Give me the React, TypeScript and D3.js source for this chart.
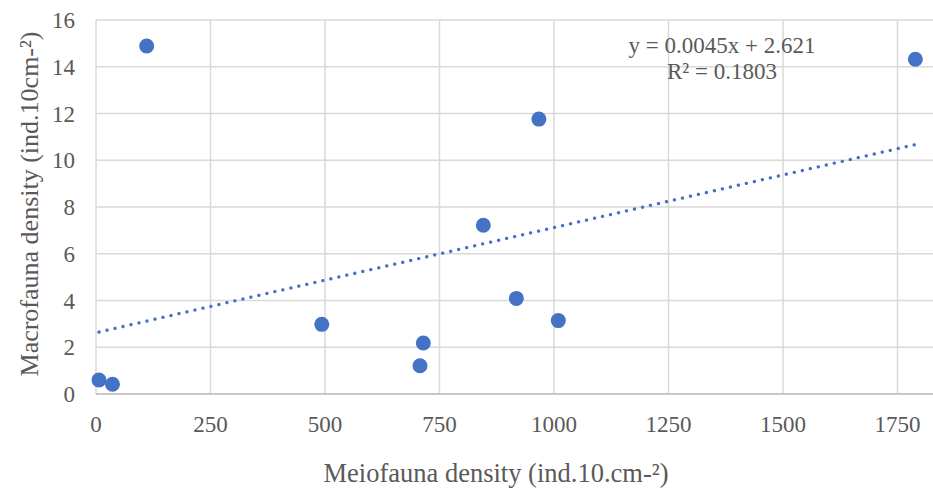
import React from "react";
import * as d3 from "d3";

const meiofauna = [6.5, 36, 110.6, 493, 714.7, 707.4, 845.7, 917.8, 1009.4, 967, 1789];
const macrofauna = [0.6, 0.42, 14.89, 2.98, 2.18, 1.21, 7.22, 4.09, 3.14, 11.76, 14.32];
const xTicks = [0, 250, 500, 750, 1000, 1250, 1500, 1750];
const yTicks = [0, 2, 4, 6, 8, 10, 12, 14, 16];
const slope = 0.0045;
const intercept = 2.621;
const equationText = "y = 0.0045x + 2.621";
const r2Text = "R² = 0.1803";
const xTitle = "Meiofauna density (ind.10.cm-²)";
const yTitle = "Macrofauna density (ind.10cm-²)";

const W = 933;
const H = 489;
const left = 96;
const right = 933;
const top = 20;
const bottom = 394;
const FONT = "'Liberation Serif'";
const TEXT = "#595959";

export default function App() {
  const x = d3.scaleLinear().domain([0, 1827.5]).range([left, right]);
  const y = d3.scaleLinear().domain([0, 16]).range([bottom, top]);
  const xMin = d3.min(meiofauna) as number;
  const xMax = d3.max(meiofauna) as number;
  const trend = d3.line<number>().x((d) => x(d)).y((d) => y(slope * d + intercept));
  const ts = (size: number) => ({ fontFamily: FONT, fontSize: size, fill: TEXT });
  return (
    <div style={{ position: "absolute", left: 0, top: 0 }}>
      <svg width={W} height={H} style={{ display: "block", background: "#fff" }}>
        {yTicks.map((t) => (
          <line key={"gy" + t} x1={left} x2={right} y1={y(t)} y2={y(t)} stroke="#d9d9d9" strokeWidth={1.5} />
        ))}
        {xTicks.map((t) => (
          <line key={"gx" + t} x1={x(t)} x2={x(t)} y1={top} y2={bottom} stroke="#d9d9d9" strokeWidth={1.5} />
        ))}
        <line x1={left} x2={right} y1={bottom} y2={bottom} stroke="#bfbfbf" strokeWidth={1.5} />
        {yTicks.map((t) => (
          <text key={"ly" + t} x={75} y={y(t) + 8} textAnchor="end" style={ts(23)}>
            {t}
          </text>
        ))}
        {xTicks.map((t) => (
          <text key={"lx" + t} x={x(t)} y={432} textAnchor="middle" style={ts(23)}>
            {t}
          </text>
        ))}
        <path
          d={trend([xMin, xMax]) || ""}
          fill="none"
          stroke="#4472C4"
          strokeWidth={3.3}
          strokeLinecap="round"
          strokeDasharray="0.1 8.1"
        />
        {meiofauna.map((m, i) => (
          <circle key={"p" + i} cx={x(m)} cy={y(macrofauna[i])} r={7.5} fill="#4472C4" />
        ))}
        <text x={722} y={53} textAnchor="middle" style={ts(23)}>
          {equationText}
        </text>
        <text x={722} y={79} textAnchor="middle" style={ts(23)}>
          {r2Text}
        </text>
        <text x={496} y={482} textAnchor="middle" style={ts(26.5)}>
          {xTitle}
        </text>
        <text transform="translate(38, 204) rotate(-90)" textAnchor="middle" style={ts(26)}>
          {yTitle}
        </text>
      </svg>
    </div>
  );
}
